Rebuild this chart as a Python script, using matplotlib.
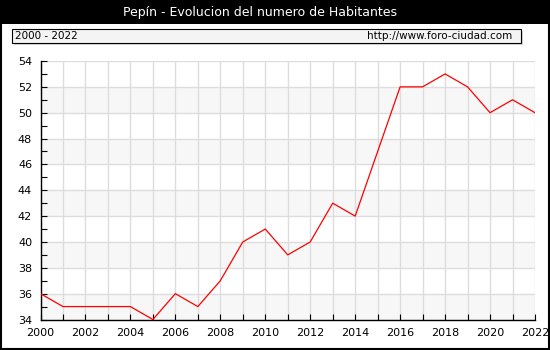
import matplotlib
matplotlib.use("Agg")
import matplotlib.pyplot as plt
from matplotlib.patches import Rectangle

years = list(range(2000, 2023))
habitantes = [36, 35, 35, 35, 35, 34, 36, 35, 37, 40, 41, 39, 40, 43, 42, 47, 52, 52, 53, 52, 50, 51, 50]
title = "Pepín - Evolucion del numero de Habitantes"
range_label = "2000 - 2022"
url_label = "http://www.foro-ciudad.com"
xticks = list(range(2000, 2023, 2))
yticks = list(range(34, 55, 2))

W, H = 550, 350
fig = plt.figure(figsize=(5.5, 3.5), dpi=100)
fig.patch.set_facecolor("white")

def fx(px): return px / W
def fy(py): return 1 - py / H

# title bar
fig.patches.append(Rectangle((0, fy(24)), 1, 24 / H, transform=fig.transFigure,
                             facecolor="black", edgecolor="none", zorder=0))
fig.text(fx(260), fy(12.5), title, color="white", fontsize=9, ha="center", va="center",
         family="DejaVu Sans")

# info box with shadow
fig.patches.append(Rectangle((fx(14), fy(45)), (521 - 12) / W, 14 / H, transform=fig.transFigure,
                             facecolor="#d8d8d8", edgecolor="none", zorder=1))
fig.patches.append(Rectangle((fx(12), fy(43)), (521 - 12) / W, 14 / H, transform=fig.transFigure,
                             facecolor="#f4f4f4", edgecolor="black", linewidth=0.8, zorder=2))
fig.text(fx(15), fy(36), range_label, fontsize=7.5, ha="left", va="center", zorder=3)
fig.text(fx(512), fy(36), url_label, fontsize=7.5, ha="right", va="center", zorder=3)

# outer border
fig.patches.append(Rectangle((0.001, 0.002), 0.997, 0.996, transform=fig.transFigure,
                             facecolor="none", edgecolor="black", linewidth=1.5, zorder=5))

ax = fig.add_axes([fx(40.5), fy(319.5), (535 - 40.5) / W, (319.5 - 61) / H])
ax.set_xlim(2000, 2022)
ax.set_ylim(34, 54)
ax.set_facecolor("white")
for y0 in range(34, 54, 4):
    ax.axhspan(y0, y0 + 2, color="#f7f7f7", zorder=0, lw=0)
for y in yticks:
    ax.axhline(y, color="#dddddd", lw=1, zorder=1)
for x in years:
    ax.axvline(x, color="#dddddd", lw=1, zorder=1)

ax.plot(years, habitantes, color="red", lw=0.9, zorder=3)

ax.set_xticks(xticks)
ax.set_xticks(years, minor=True)
ax.set_yticks(yticks)
ax.set_yticks(range(34, 55), minor=True)
ax.tick_params(axis="both", which="both", direction="in", length=4, width=0.8, labelsize=8, color="black")
ax.tick_params(axis="x", pad=6)
ax.tick_params(axis="y", pad=6)
for s in ["top", "right"]:
    ax.spines[s].set_visible(False)
for s in ["left", "bottom"]:
    ax.spines[s].set_linewidth(1)
ax.tick_params(top=False, right=False)

fig.savefig("out.png", dpi=100)
